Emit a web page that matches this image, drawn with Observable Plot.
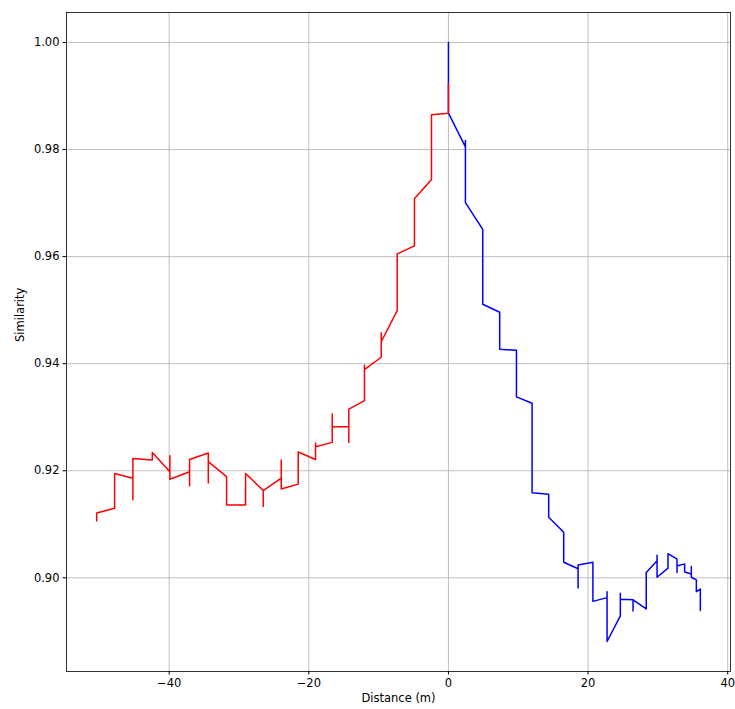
<!DOCTYPE html>
<html>
<head>
<meta charset="utf-8">
<script src="https://cdn.jsdelivr.net/npm/d3@7"></script>
<script src="https://cdn.jsdelivr.net/npm/@observablehq/plot@0.6"></script>
<style>
  html, body { margin: 0; padding: 0; background: white; }
</style>
</head>
<body>
<div id="chart"></div>
<script>
// Blue series (positive distance)
const blueX = [0, 0, 2.43, 2.43, 2.43, 4.91, 4.91, 7.34, 7.34, 9.74, 9.74, 11.98, 11.98, 11.98, 14.36, 14.36, 16.51, 16.51, 18.57, 18.57, 18.57, 20.69, 20.69, 22.72, 22.72, 22.72, 24.62, 24.62, 24.62, 26.44, 26.44, 26.44, 28.33, 28.33, 29.88, 29.88, 29.88, 31.45, 31.45, 32.74, 32.74, 32.74, 33.83, 33.83, 34.79, 34.79, 34.79, 35.51, 35.51, 36.08, 36.08];
const blueY = [1.0000, 0.9868, 0.9805, 0.9817, 0.9701, 0.9651, 0.9511, 0.9496, 0.9427, 0.9425, 0.9338, 0.9326, 0.9218, 0.9159, 0.9156, 0.9113, 0.9085, 0.9029, 0.9017, 0.8981, 0.9024, 0.9029, 0.8956, 0.8963, 0.8974, 0.8881, 0.8929, 0.8971, 0.8960, 0.8959, 0.8938, 0.8959, 0.8942, 0.9010, 0.9032, 0.9042, 0.9001, 0.9018, 0.9045, 0.9035, 0.9010, 0.9022, 0.9026, 0.9011, 0.9007, 0.9021, 0.9001, 0.8996, 0.8974, 0.8979, 0.8939];

// Red series (negative distance)
const redX = [0, 0, -2.43, -2.43, -4.87, -4.87, -7.34, -7.34, -9.63, -9.63, -9.63, -12.03, -12.03, -12.03, -14.27, -14.27, -14.27, -16.65, -16.65, -16.65, -19.04, -19.04, -19.04, -21.52, -21.52, -23.95, -23.95, -23.95, -26.53, -26.53, -26.53, -29.06, -29.06, -31.78, -31.78, -34.40, -34.40, -34.40, -37.08, -37.08, -37.08, -39.90, -39.90, -39.90, -42.42, -42.42, -45.20, -45.20, -45.20, -47.82, -47.82, -50.39, -50.39];
const redY = [0.9923, 0.9868, 0.9865, 0.9744, 0.9708, 0.9620, 0.9605, 0.9499, 0.9441, 0.9458, 0.9412, 0.9389, 0.9397, 0.9331, 0.9315, 0.9253, 0.9282, 0.9282, 0.9306, 0.9253, 0.9245, 0.9252, 0.9221, 0.9235, 0.9175, 0.9166, 0.9220, 0.9186, 0.9163, 0.9133, 0.9163, 0.9195, 0.9136, 0.9136, 0.9189, 0.9217, 0.9177, 0.9233, 0.9221, 0.9172, 0.9198, 0.9184, 0.9228, 0.9198, 0.9234, 0.9220, 0.9223, 0.9146, 0.9186, 0.9195, 0.9130, 0.9121, 0.9106];

const xTicks = [-40, -20, 0, 20, 40];
const yTicks = [0.90, 0.92, 0.94, 0.96, 0.98, 1.00];
const xLabel = "Distance (m)";
const yLabel = "Similarity";

const blue = blueX.map((x, i) => ({x, y: blueY[i]}));
const red = redX.map((x, i) => ({x, y: redY[i]}));

const chart = Plot.plot({
  width: 735,
  height: 709,
  marginLeft: 66,
  marginRight: 5,
  marginTop: 12,
  marginBottom: 38,
  style: {fontFamily: "DejaVu Sans", fontSize: "11.5px", background: "white", color: "black"},
  x: {domain: [-54.71, 40.4]},
  y: {domain: [0.8825, 1.0056]},
  marks: [
    Plot.gridX(xTicks, {stroke: "#b0b0b0", strokeOpacity: 1, strokeWidth: 0.8}),
    Plot.gridY(yTicks, {stroke: "#b0b0b0", strokeOpacity: 1, strokeWidth: 0.8}),
    Plot.line(blue, {x: "x", y: "y", stroke: "blue", strokeWidth: 1.5, strokeLinejoin: "round"}),
    Plot.line(red, {x: "x", y: "y", stroke: "red", strokeWidth: 1.5, strokeLinejoin: "round"}),
    Plot.axisX(xTicks, {tickSize: 3.5, tickPadding: 3.5, label: null, tickFormat: d3.format(""), fontSize: 11.5}),
    Plot.axisY(yTicks, {tickSize: 3.5, tickPadding: 3.5, label: null, tickFormat: d3.format(".2f"), fontSize: 11.5}),
    Plot.frame({stroke: "black", strokeWidth: 0.8}),
    Plot.text([xLabel], {frameAnchor: "bottom", dy: 30.5, text: d => d, fontSize: 11.5}),
    Plot.text([yLabel], {frameAnchor: "left", dx: -46, rotate: -90, text: d => d, fontSize: 11.5})
  ]
});
document.getElementById("chart").appendChild(chart);
</script>
</body>
</html>
